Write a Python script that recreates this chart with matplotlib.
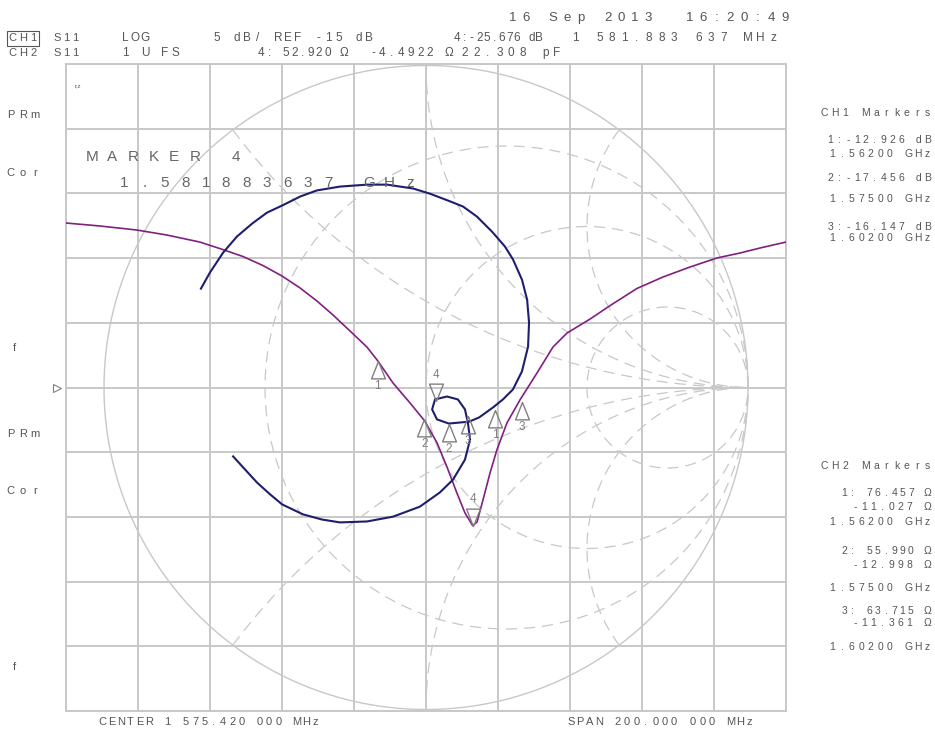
import numpy as np
import matplotlib
matplotlib.use('Agg')
import matplotlib.pyplot as plt
from matplotlib.patches import Rectangle

plt.rcParams['font.family'] = ['Liberation Sans', 'DejaVu Sans']
plt.rcParams['lines.scale_dashes'] = False

# CH1: S11 log mag, 5 dB/div, ref -15 dB
center_mhz = 1575.42
span_mhz = 200.0
ref_db = -15.0
db_per_div = 5.0

ch1_freq = [1475.42, 1484.9, 1495.1, 1503.5, 1512.6, 1519.0, 1524.6, 1530.1, 1535.4,
            1540.4, 1545.1, 1549.6, 1554.3, 1559.0, 1562.0, 1566.25, 1571.0, 1575.1,
            1578.5, 1581.25, 1584.0, 1586.25, 1588.4, 1589.6, 1591.25, 1593.2, 1595.1,
            1597.9, 1601.5, 1606.25, 1610.7, 1614.6, 1621.0, 1626.5, 1634.0, 1641.25,
            1648.75, 1656.25, 1662.6, 1668.2, 1675.42]
ch1_db = [-2.29, -2.52, -2.83, -3.22, -3.76, -4.34, -4.88, -5.57, -6.38,
          -7.30, -8.31, -9.40, -10.63, -11.87, -12.93, -14.65, -16.20, -17.6,
          -19.29, -21.14, -23.15, -24.70, -25.68, -25.39, -23.69, -21.61, -19.83,
          -17.74, -15.97, -13.88, -11.87, -10.79, -9.71, -8.68, -7.35, -6.46,
          -5.69, -4.99, -4.61, -4.22, -3.76]

# marker 4 is drawn where it sits on the screen
ch1_mk_freq = [1562.0, 1575.0, 1602.0, 1588.4]
ch1_mk_db = [-12.926, -17.456, -16.147, -25.676]

# CH2: S11 Smith chart, reflection coefficient
ch2_re = [-0.699, -0.671, -0.630, -0.587, -0.540, -0.494, -0.447, -0.391, -0.339, -0.267,
          -0.183, -0.121, -0.040, 0.012, 0.075, 0.115, 0.158, 0.205, 0.245, 0.270,
          0.298, 0.314, 0.320, 0.317, 0.298, 0.270, 0.239, 0.208, 0.165, 0.134,
          0.071, 0.034, 0.019, 0.028, 0.065, 0.099, 0.121, 0.130, 0.137, 0.121,
          0.084, 0.043, -0.019, -0.102, -0.183, -0.267, -0.323, -0.382, -0.447, -0.484,
          -0.525, -0.568, -0.599]
ch2_im = [0.307, 0.357, 0.419, 0.469, 0.509, 0.543, 0.565, 0.593, 0.612, 0.624,
          0.630, 0.630, 0.618, 0.602, 0.578, 0.562, 0.531, 0.484, 0.438, 0.398,
          0.335, 0.273, 0.202, 0.127, 0.050, -0.006, -0.037, -0.062, -0.093, -0.106,
          -0.112, -0.099, -0.068, -0.037, -0.028, -0.037, -0.068, -0.109, -0.161, -0.224,
          -0.286, -0.326, -0.370, -0.401, -0.416, -0.419, -0.410, -0.394, -0.363, -0.332,
          -0.295, -0.248, -0.214]

# CH2 markers (ohms, 50 ohm system)
ch2_mk_r = [76.457, 55.990, 63.715, 52.920]
ch2_mk_x = [-11.027, -12.998, -11.361, -4.4922]

res_circles = [1/3, 1.0, 3.0]
react_arcs = [0.5, 1.0, 2.0, -0.5, -1.0, -2.0]

W, H = 935, 730
GRID = '#c8c8c8'
TXT = '#555555'
PURPLE = '#802080'
NAVY = '#1e1e6e'
MK = '#808080'

fig = plt.figure(figsize=(W / 100, H / 100), dpi=100)
fig.patch.set_facecolor('white')
rect = [66 / W, (H - 711) / H, 720 / W, 647 / H]
gx = 360 / 322
gy = 323.5 / 322

# Smith chart graticule
ax_s = fig.add_axes(rect, zorder=1)
ax_s.set_xlim(-gx, gx)
ax_s.set_ylim(-gy, gy)
ax_s.axis('off')
t = np.linspace(0, 2 * np.pi, 400)
ax_s.plot(np.cos(t), np.sin(t), color=GRID, lw=1.0)
for r in res_circles:
    c, rad = r / (1 + r), 1 / (1 + r)
    ax_s.plot(c + rad * np.cos(t), rad * np.sin(t), color=GRID, lw=0.9,
              linestyle=(0, (8, 5)))
rr = np.concatenate([np.linspace(0, 5, 200), np.geomspace(5, 400, 100)])
for x in react_arcs:
    g = (rr + 1j * x - 1) / (rr + 1j * x + 1)
    ax_s.plot(g.real, g.imag, color=GRID, lw=0.9, linestyle=(0, (8, 5)))

# CH1 rectangular grid and trace
ax1 = fig.add_axes(rect, zorder=2)
ax1.patch.set_alpha(0)
f0 = center_mhz - span_mhz / 2
ax1.set_xlim(f0, f0 + span_mhz)
ax1.set_ylim(ref_db - 5 * db_per_div, ref_db + 5 * db_per_div)
ax1.set_xticks(np.linspace(f0, f0 + span_mhz, 11))
ax1.set_yticks(np.linspace(ref_db - 5 * db_per_div, ref_db + 5 * db_per_div, 11))
ax1.grid(True, color=GRID, lw=1.4)
ax1.tick_params(length=0, labelbottom=False, labelleft=False)
for sp in ax1.spines.values():
    sp.set_color(GRID)
    sp.set_linewidth(1.4)
ax1.plot(ch1_freq, ch1_db, color=PURPLE, lw=1.2, zorder=3)

up = [(0, 0), (-0.4, -1), (0.4, -1), (0, 0)]
down = [(0, 0), (-0.4, 1), (0.4, 1), (0, 0)]


def draw_markers(ax, xs, ys):
    for i, (xv, yv) in enumerate(zip(xs, ys)):
        inv = (i == 3)
        ax.plot(xv, yv, marker=down if inv else up, ms=25, mfc='none', mec=MK,
                mew=1.0, zorder=5)
        ax.annotate(str(i + 1), (xv, yv), xytext=(0, 19 if inv else -18),
                    textcoords='offset points', ha='center', va='center',
                    fontsize=8.5, color=MK, zorder=5)


draw_markers(ax1, ch1_mk_freq, ch1_mk_db)

# CH2 trace on top
ax2 = fig.add_axes(rect, zorder=3)
ax2.set_xlim(-gx, gx)
ax2.set_ylim(-gy, gy)
ax2.axis('off')
ax2.plot(ch2_re, ch2_im, color=NAVY, lw=1.5)
z = (np.array(ch2_mk_r) + 1j * np.array(ch2_mk_x)) / 50.0
gm = (z - 1) / (z + 1)
draw_markers(ax2, gm.real, gm.imag)


def spread(x0, x1, y, s, size=8.5, color=TXT):
    # fixed-pitch screen font: spread the characters evenly between x0 and x1
    n = len(s)
    half = 0.25 * size * 1.389
    a, b = x0 + half, x1 - half
    step = (b - a) / (n - 1) if n > 1 else 0
    for i, ch in enumerate(s):
        if ch != ' ':
            fig.text((a + i * step) / W, 1 - y / H, ch, ha='center', va='center',
                     fontsize=size, color=color)


spread(509, 788, 18, '16 Sep 2013  16:20:49', 9.5)
spread(10, 36, 38, 'CH1', 8)
fig.add_artist(Rectangle((7 / W, 1 - 46 / H), 32 / W, 15 / H, transform=fig.transFigure,
                         fill=False, ec=TXT, lw=0.8))
spread(54, 78, 38, 'S11', 8)
spread(122, 148, 38, 'LOG')
spread(214, 372, 38, '5 dB/ REF -15 dB')
spread(454, 542, 38, '4:-25.676 dB')
spread(572, 776, 38, '1 581.883 637 MHz')
spread(10, 36, 53, 'CH2', 8)
spread(54, 78, 53, 'S11', 8)
spread(122, 178, 53, '1 U FS')
spread(258, 347, 53, '4: 52.920 \u03a9')
spread(370, 452, 53, '-4.4922 \u03a9')
spread(462, 560, 53, '22.308 pF')

for y, s in [(115, 'PRm'), (173, 'Cor'), (434, 'PRm'), (491, 'Cor')]:
    spread(8, 38, y, s, 8)
for y in (348, 667):
    fig.text(14 / W, 1 - y / H, 'f', ha='center', va='center', fontsize=8, color=TXT)
fig.text(78 / W, 1 - 86 / H, 'r,z', ha='center', va='center', fontsize=4.5, color=TXT)
ax1.plot([-0.012], [0.5], marker='>', ms=6, mfc='none', mec=MK, mew=0.8,
         transform=ax1.transAxes, clip_on=False)

spread(88, 240, 157, 'MARKER 4', 11, '#666666')
spread(120, 414, 183, '1.581883637 GHz', 11, '#666666')

right = [(113, 'CH1 Markers', 822), (140, '1:-12.926 dB', 828), (154, '1.56200 GHz', 830),
         (178, '2:-17.456 dB', 828), (199, '1.57500 GHz', 830), (227, '3:-16.147 dB', 828),
         (238, '1.60200 GHz', 830),
         (466, 'CH2 Markers', 822), (493, '1: 76.457 \u03a9', 842), (507, '-11.027 \u03a9', 853),
         (522, '1.56200 GHz', 830), (551, '2: 55.990 \u03a9', 842), (565, '-12.998 \u03a9', 853),
         (588, '1.57500 GHz', 830), (611, '3: 63.715 \u03a9', 842), (623, '-11.361 \u03a9', 853),
         (647, '1.60200 GHz', 830)]
for y, s, x0 in right:
    spread(x0, 930, y, s, 7.5)

spread(100, 318, 722, 'CENTER 1 575.420 000 MHz', 8)
spread(568, 752, 722, 'SPAN 200.000 000 MHz', 8)

fig.savefig('out.png', dpi=100, facecolor='white')
